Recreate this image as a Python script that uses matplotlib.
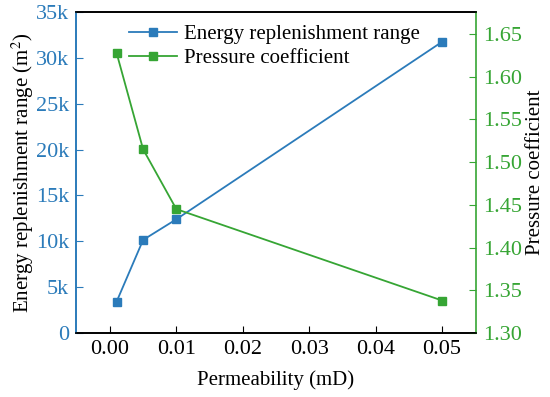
import matplotlib
matplotlib.use("Agg")
import matplotlib.pyplot as plt

permeability = [0.001, 0.005, 0.01, 0.05]
energy_range = [3400, 10150, 12400, 31750]
pressure_coef = [1.628, 1.515, 1.445, 1.338]

left_ticks = [0, 5000, 10000, 15000, 20000, 25000, 30000, 35000]
left_labels = ["0", "5k", "10k", "15k", "20k", "25k", "30k", "35k"]
right_ticks = [1.30, 1.35, 1.40, 1.45, 1.50, 1.55, 1.60, 1.65]
x_ticks = [0.00, 0.01, 0.02, 0.03, 0.04, 0.05]

blue = "#2b7bba"
green = "#36a534"

plt.rcParams['font.family'] = ['Liberation Serif', 'DejaVu Serif']
plt.rcParams['mathtext.fontset'] = 'stix'

fig = plt.figure(figsize=(5.5, 3.97), dpi=100)
ax = fig.add_axes([76/550, 1-333/397, 400/550, 321/397])
ax2 = ax.twinx()

l1, = ax.plot(permeability, energy_range, color=blue, marker='s', markersize=5.5, lw=1.3,
              label='Energy replenishment range')
l2, = ax2.plot(permeability, pressure_coef, color=green, marker='s', markersize=5.5, lw=1.3,
               label='Pressure coefficient')

ax.set_xlim(-0.0051, 0.0551)
ax.set_ylim(0, 35000)
ax2.set_ylim(1.30, 1.6757)

ax.set_xticks(x_ticks)
ax.set_xticklabels([f"{v:.2f}" for v in x_ticks])
ax.set_yticks(left_ticks)
ax.set_yticklabels(left_labels)
ax2.set_yticks(right_ticks)
ax2.set_yticklabels([f"{v:.2f}" for v in right_ticks])

tfs = 16
fs = 15
ax.tick_params(axis='x', direction='in', labelsize=tfs, colors='black', length=5, pad=5)
ax.tick_params(axis='y', direction='in', labelsize=tfs, colors=blue, length=5, pad=5)
ax2.tick_params(axis='y', direction='in', labelsize=tfs, colors=green, length=5, pad=5)

ax.spines['left'].set_color(blue)
ax2.spines['left'].set_color(blue)
ax2.spines['right'].set_color(green)
ax.spines['right'].set_visible(False)
for a in (ax, ax2):
    for s in a.spines.values():
        s.set_linewidth(1.2)

ax.set_xlabel('Permeability (mD)', fontsize=fs, color='black', labelpad=8)
ax.set_ylabel('Energy replenishment range (m$^2$)', fontsize=fs, color='black', labelpad=0)
ax2.set_ylabel('Pressure coefficient', fontsize=fs, color='black', labelpad=3)

ax.legend(handles=[l1, l2], loc='upper left', bbox_to_anchor=(0.10, 1.0), frameon=False,
          fontsize=fs, handlelength=2.35, borderpad=0.1, labelspacing=0.2, handletextpad=0.3)

fig.savefig('out.png', dpi=100)
